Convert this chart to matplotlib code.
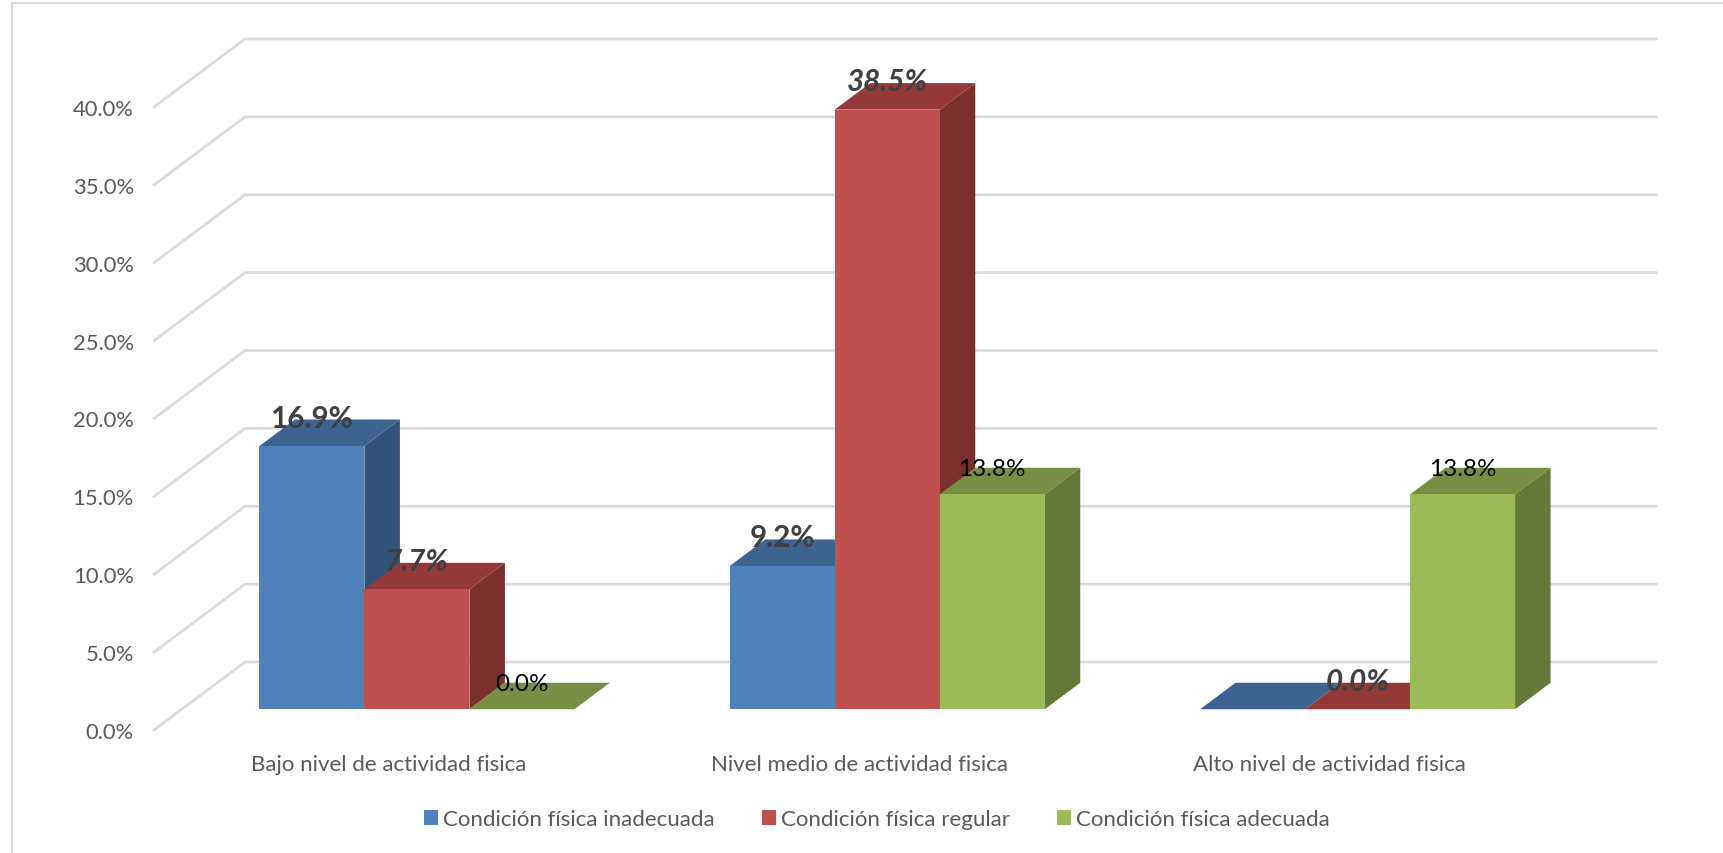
import matplotlib
matplotlib.use('Agg')
import matplotlib.pyplot as plt
from matplotlib.lines import Line2D
from matplotlib.patches import Patch
import numpy as np

plt.rcParams['font.family'] = ['Lato', 'DejaVu Sans']

categories = ['Bajo nivel de actividad fisica', 'Nivel medio de actividad fisica',
              'Alto nivel de actividad fisica']
series_names = ['Condición física inadecuada', 'Condición física regular',
                'Condición física adecuada']
inadecuada = [16.9, 9.2, 0.0]
regular = [7.7, 38.5, 0.0]
adecuada = [0.0, 13.8, 13.8]
y_ticks = [0, 5, 10, 15, 20, 25, 30, 35, 40]

# front, top, side colours per series
colors = [('#4F81BD', '#3D6391', '#31537A'),
          ('#C0504D', '#933937', '#7B302E'),
          ('#9BBB59', '#778F44', '#647839')]

W, H = 1724, 854
fig = plt.figure(figsize=(W/100, H/100), dpi=100)
# axes is the front edge of the 3d box
ax = fig.add_axes([154/W, (H-731)/H, 1411/W, 623/H])
ax.set_xlim(-0.5, 2.5)
ax.set_ylim(0, 40)
ax.patch.set_visible(False)
for s in ax.spines.values():
    s.set_visible(False)

# depth of the box in data units
DX = 91 / (1411/3)
DY = 68 / (623/40)
d0, d1 = 0.305, 0.695
bar_w = 105 / (1411/3)

grid_c = '#D9D9D9'
for v in y_ticks:
    ax.plot([-0.5, -0.5+DX, 2.5+DX], [v, v+DY, v+DY], color=grid_c, lw=1.9,
            clip_on=False, zorder=1, solid_joinstyle='miter')


def draw_bars(vals, idx):
    front, top, side = colors[idx]
    off = (idx-1)*bar_w
    for i, v in enumerate(vals):
        x0 = i + off - bar_w/2 + d0*DX
        x1 = x0 + bar_w
        y0 = d0*DY
        dx = (d1-d0)*DX
        dy = (d1-d0)*DY
        ax.fill([x1, x1+dx, x1+dx, x1], [y0, y0+dy, y0+dy+v, y0+v], color=side,
                lw=0, clip_on=False, zorder=2+idx)
        ax.fill([x0, x1, x1+dx, x0+dx], [y0+v, y0+v, y0+v+dy, y0+v+dy], color=top,
                lw=0, clip_on=False, zorder=2+idx)
        if v > 0:
            ax.bar(x0, v, bottom=y0, width=bar_w, align='edge', color=front, lw=0,
                   clip_on=False, zorder=2+idx)


draw_bars(inadecuada, 0)
draw_bars(regular, 1)
draw_bars(adecuada, 2)

ax.set_xticks([0, 1, 2])
ax.set_xticklabels(categories)
ax.set_yticks(y_ticks)
ax.set_yticklabels(['%.1f%%' % v for v in y_ticks])
ax.tick_params(axis='x', length=0, pad=17.3, labelsize=16, labelcolor='#595959')
ax.tick_params(axis='y', length=0, pad=14.5, labelsize=15.8, labelcolor='#595959')

# data labels: value, series, group, style
big = dict(fontsize=21.3, fontweight='bold', color='#404040')
small = dict(fontsize=17.5, color='black')


def label(idx, i, v, gap, **kw):
    x = i + (idx-1)*bar_w + d0*DX
    ax.text(x, d0*DY + v + gap/(623/40), '%.1f%%' % v, ha='center', va='center',
            clip_on=False, zorder=10, **kw)


label(0, 0, inadecuada[0], 28.5, **big)
label(1, 0, regular[0], 28.5, fontstyle='italic', **big)
label(2, 0, adecuada[0], 25.5, **small)
label(0, 1, inadecuada[1], 28.5, **big)
label(1, 1, regular[1], 28.5, fontstyle='italic', **big)
label(2, 1, adecuada[1], 25.5, **small)
label(1, 2, regular[2], 28.5, fontstyle='italic', **big)
label(2, 2, adecuada[2], 25.5, **small)

handles = [Patch(color=colors[k][0], lw=0) for k in range(3)]
fig.legend(handles, series_names, loc='center', bbox_to_anchor=(877/W, (H-820.5)/H), ncol=3,
           frameon=False, fontsize=16, labelcolor='#595959', handlelength=0.63, handleheight=0.63,
           handletextpad=0.25, columnspacing=2.1)

# chart border
fig.add_artist(Line2D([12/W, 12/W, 1], [0, (H-4)/H, (H-4)/H], color=grid_c, lw=1.6))

fig.savefig('out.png', dpi=100)
